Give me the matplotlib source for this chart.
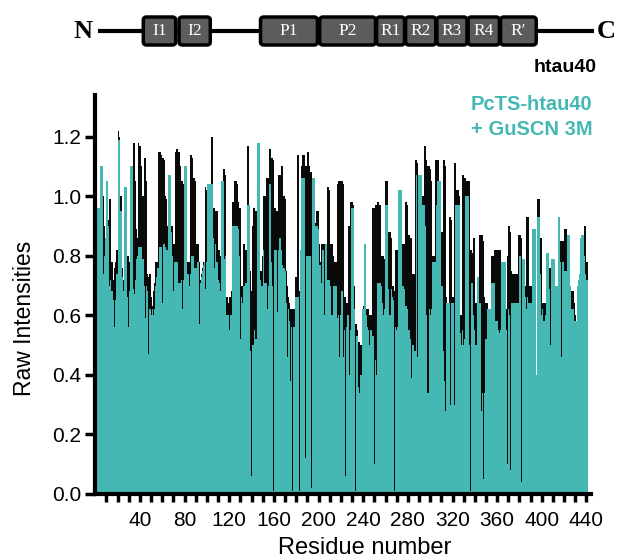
import numpy as np
import matplotlib
matplotlib.use("Agg")
import matplotlib.pyplot as plt
from matplotlib.patches import FancyBboxPatch

# Intensidades por residuo (1..441)
htau40 = [
    0.45, 0.96, 0.96, 0.96, 0.98, 1.00, 1.00, 0.90, 0.82, 0.95,
    0.95, 0.92, 0.99, 0.99, 0.78, 0.72, 0.76, 0.78, 0.82, 0.82,
    1.22, 1.20, 1.00, 0.76, 0.72, 0.90, 0.85, 0.80, 0.80, 0.80,
    0.78, 1.00, 1.00, 1.18, 1.18, 1.05, 0.89, 0.86, 1.18, 1.17,
    1.10, 1.00, 1.00, 1.13, 1.13, 1.05, 0.74, 0.73, 0.74, 0.66,
    0.63, 0.68, 0.71, 0.78, 0.78, 0.78, 1.15, 1.15, 1.14, 1.13,
    1.13, 1.12, 1.00, 0.99, 0.90, 0.95, 0.92, 0.90, 0.90, 0.84,
    0.84, 1.15, 1.16, 1.16, 1.15, 1.10, 1.05, 1.05, 1.04, 1.00,
    1.00, 1.00, 0.78, 0.78, 1.14, 1.14, 1.13, 1.06, 1.06, 1.05,
    0.84, 0.84, 0.78, 0.72, 0.74, 0.76, 0.78, 0.78, 1.03, 1.02,
    1.00, 1.02, 1.04, 1.20, 1.20, 0.96, 0.96, 0.95, 0.95, 0.82,
    0.82, 0.80, 1.00, 1.00, 1.09, 1.09, 1.07, 0.66, 0.64, 0.66,
    0.66, 0.68, 0.98, 0.98, 1.05, 1.05, 1.04, 0.98, 0.96, 0.96,
    0.70, 0.70, 0.84, 0.84, 0.82, 1.17, 1.17, 0.80, 0.75, 0.68,
    0.90, 0.96, 0.96, 0.95, 1.00, 1.10, 1.10, 0.75, 0.75, 0.80,
    1.00, 1.00, 1.06, 1.06, 1.06, 1.16, 1.16, 1.13, 1.13, 1.12,
    0.96, 0.95, 0.95, 1.07, 1.07, 1.07, 1.10, 1.10, 1.00, 0.99,
    0.75, 0.70, 0.66, 0.64, 0.62, 0.62, 0.62, 0.62, 0.73, 0.73,
    1.14, 1.14, 0.68, 0.68, 1.10, 1.14, 1.14, 1.10, 1.10, 1.15,
    1.15, 1.10, 1.08, 1.08, 0.91, 0.91, 0.91, 0.95, 0.95, 0.95,
    0.84, 0.78, 0.84, 0.84, 0.84, 0.82, 0.84, 1.03, 1.03, 1.02,
    0.84, 0.84, 0.80, 0.78, 0.78, 0.78, 1.04, 1.05, 1.05, 1.05,
    1.05, 1.04, 0.66, 0.66, 0.64, 0.64, 0.90, 0.90, 0.98, 0.98,
    0.97, 0.70, 0.57, 0.57, 0.55, 0.51, 0.51, 0.50, 0.62, 0.63,
    0.80, 0.78, 0.62, 0.62, 0.62, 0.60, 0.60, 0.96, 0.96, 0.96,
    0.97, 0.97, 0.98, 0.98, 0.97, 0.80, 0.80, 0.80, 0.79, 1.05,
    1.05, 1.05, 0.88, 0.88, 0.86, 0.70, 0.70, 0.68, 0.82, 0.82,
    0.82, 0.85, 0.85, 0.84, 0.84, 0.84, 0.84, 0.98, 0.98, 0.97,
    0.87, 0.86, 0.86, 0.74, 0.74, 0.74, 1.12, 1.12, 1.11, 1.05,
    1.04, 1.02, 1.00, 1.00, 1.17, 1.17, 1.12, 1.10, 1.10, 1.09,
    1.05, 0.80, 0.80, 0.80, 1.12, 1.12, 1.12, 1.00, 0.98, 0.88,
    0.88, 1.12, 1.12, 1.10, 0.66, 0.64, 0.93, 0.93, 0.92, 0.66,
    0.66, 1.11, 1.11, 1.02, 1.02, 1.00, 0.60, 0.60, 1.07, 1.07,
    1.06, 1.06, 1.05, 1.05, 1.05, 0.82, 0.82, 0.81, 0.86, 0.86,
    0.64, 0.64, 0.64, 0.87, 0.87, 0.87, 0.87, 0.85, 0.66, 0.64,
    0.64, 0.62, 0.62, 0.62, 0.80, 0.80, 0.80, 0.82, 0.82, 0.82,
    0.82, 0.82, 0.82, 0.60, 0.58, 0.58, 0.60, 0.62, 0.80, 0.90,
    0.90, 0.88, 0.75, 0.74, 0.74, 0.74, 0.74, 0.74, 0.87, 0.87,
    0.87, 0.86, 0.70, 0.70, 0.70, 0.93, 0.93, 0.93, 0.70, 0.70,
    0.70, 0.80, 0.80, 0.80, 0.40, 0.99, 0.99, 0.99, 0.86, 0.86,
    0.64, 0.64, 0.64, 0.78, 0.78, 0.78, 0.76, 0.76, 0.76, 0.78,
    0.78, 0.70, 0.70, 0.70, 0.85, 0.85, 0.85, 0.85, 0.85, 0.89,
    0.89, 0.89, 0.80, 0.80, 0.80, 0.68, 0.68, 0.68, 0.64, 0.60,
    0.58, 0.60, 0.60, 0.60, 0.70, 0.80, 0.80, 0.90, 0.90, 0.78, 0.78,
]

pcts_guscn = [
    0.45, 0.96, 0.96, 0.96, 1.10, 1.10, 0.74, 0.80, 0.86, 1.05,
    1.05, 0.90, 0.70, 0.72, 0.68, 0.65, 0.56, 0.65, 0.74, 0.74,
    1.19, 1.19, 0.95, 0.73, 0.68, 1.03, 1.03, 1.03, 0.66, 0.56,
    0.68, 1.10, 1.10, 0.69, 0.67, 0.72, 0.79, 0.80, 0.83, 0.83,
    0.83, 0.79, 0.79, 0.70, 0.59, 0.70, 0.68, 0.47, 0.62, 0.60,
    0.62, 0.60, 0.62, 0.70, 0.73, 0.76, 0.76, 0.83, 0.83, 0.64,
    0.84, 0.84, 0.83, 0.82, 0.82, 1.07, 1.07, 0.88, 0.80, 0.68,
    0.78, 0.78, 0.78, 0.78, 0.71, 0.71, 0.72, 0.62, 0.72, 1.10,
    1.10, 1.10, 0.74, 0.70, 0.74, 0.80, 0.80, 0.80, 0.76, 0.76,
    0.76, 0.78, 0.57, 0.71, 0.73, 0.75, 0.77, 0.78, 0.69, 0.78,
    1.04, 1.04, 1.04, 1.04, 1.04, 0.86, 0.76, 0.84, 0.78, 0.72,
    0.71, 0.68, 1.05, 1.05, 1.05, 0.79, 0.80, 0.60, 0.60, 0.55,
    0.60, 0.60, 0.90, 0.90, 0.90, 0.90, 0.90, 0.89, 0.80, 0.52,
    0.66, 0.64, 0.70, 0.70, 0.71, 0.97, 0.97, 0.97, 0.48, 0.06,
    0.50, 0.50, 0.55, 0.52, 1.18, 1.18, 1.18, 0.72, 0.70, 0.70,
    0.82, 0.71, 0.71, 0.62, 0.70, 1.04, 1.04, 0.78, 0.70, 0.01,
    0.82, 0.82, 0.61, 0.82, 0.86, 0.86, 0.82, 0.77, 0.76, 0.75,
    0.64, 0.46, 0.62, 0.58, 0.38, 0.56, 0.01, 0.56, 0.66, 0.66,
    0.66, 0.66, 0.01, 0.82, 1.06, 1.06, 1.06, 0.12, 0.80, 0.80,
    0.80, 0.80, 0.80, 0.02, 1.06, 1.06, 0.90, 0.90, 0.90, 0.89,
    0.77, 0.77, 0.71, 0.82, 0.60, 0.84, 0.84, 0.72, 0.72, 0.72,
    0.70, 0.60, 0.70, 0.70, 0.70, 0.70, 0.59, 0.60, 0.46, 0.60,
    0.68, 0.46, 0.55, 0.06, 0.56, 0.60, 0.60, 0.40, 0.55, 0.96,
    0.96, 0.62, 0.01, 0.53, 0.53, 0.36, 0.34, 0.40, 0.62, 0.62,
    0.84, 0.84, 0.60, 0.56, 0.55, 0.50, 0.55, 0.53, 0.53, 0.10,
    0.45, 0.40, 0.71, 0.71, 0.71, 0.70, 0.64, 0.60, 0.62, 0.97,
    0.97, 0.97, 0.69, 0.60, 0.69, 0.66, 0.65, 0.01, 0.56, 0.55,
    0.56, 1.02, 1.02, 1.02, 0.70, 0.70, 0.69, 0.63, 0.63, 0.62,
    0.55, 0.52, 0.39, 0.50, 0.50, 0.48, 0.48, 1.07, 0.46, 1.07,
    1.07, 1.07, 0.97, 0.97, 0.97, 0.90, 0.60, 0.34, 0.62, 0.60,
    0.62, 0.78, 0.78, 0.78, 0.78, 0.97, 1.05, 1.05, 1.05, 0.70,
    0.70, 0.48, 0.38, 0.28, 0.64, 0.64, 0.64, 0.30, 0.64, 0.64,
    0.64, 0.30, 0.97, 0.97, 0.97, 0.97, 0.54, 0.50, 0.55, 0.50,
    0.52, 1.00, 1.00, 1.00, 0.50, 0.01, 0.71, 0.71, 0.60, 0.55,
    0.50, 0.73, 0.73, 0.64, 0.64, 0.28, 0.34, 0.05, 0.34, 0.52,
    0.62, 0.62, 0.62, 0.62, 0.71, 0.71, 0.71, 0.71, 0.58, 0.58,
    0.55, 0.54, 0.55, 0.78, 0.78, 0.78, 0.78, 0.55, 0.10, 0.62,
    0.60, 0.08, 0.64, 0.64, 0.64, 0.64, 0.64, 0.64, 0.64, 0.80,
    0.80, 0.04, 0.79, 0.79, 0.66, 0.62, 0.66, 0.64, 0.64, 0.64,
    0.64, 0.89, 0.89, 0.89, 0.40, 0.93, 0.93, 0.93, 0.74, 0.60,
    0.62, 0.58, 0.60, 0.81, 0.81, 0.81, 0.69, 0.50, 0.79, 0.79,
    0.79, 0.70, 0.70, 0.70, 0.93, 0.93, 0.78, 0.46, 0.78, 0.75,
    0.75, 0.75, 0.87, 0.87, 0.87, 0.70, 0.62, 0.62, 0.58, 0.58,
    0.58, 0.70, 0.72, 0.74, 0.86, 0.87, 0.87, 0.80, 0.74, 0.72, 0.72,
]

residuos = np.arange(1, len(htau40) + 1)

# Dominios do esquema no topo (em numero de residuo)
dominios = ["I1", "I2", "P1", "P2", "R1", "R2", "R3", "R4", "R\u2032"]
dom_inicio = [43, 75, 148, 201, 252, 278, 306, 334, 363]
dom_fim = [72, 103, 199, 251, 277, 305, 333, 362, 395]

xticks_maiores = list(range(40, 441, 40))
xticks_menores = list(range(10, 441, 10))
yticks = [0.0, 0.2, 0.4, 0.6, 0.8, 1.0, 1.2]

teal = "#45B8B3"
preto = "#0a0a0a"

plt.rcParams["font.family"] = ["Liberation Sans", "DejaVu Sans"]

fig = plt.figure(figsize=(6.18, 5.60), dpi=100)
ax = fig.add_axes([0.1542, 0.1179, 0.802, 0.7125])

# Barras: htau40 atras, PcTS-htau40 + GuSCN na frente
ax.bar(residuos, htau40, width=1.0, color=preto, linewidth=0)
ax.bar(residuos, pcts_guscn, width=1.0, color=teal, linewidth=0)

ax.set_xlim(0, 444)
ax.set_ylim(0, 1.34)
ax.set_xticks(xticks_maiores)
ax.set_xticks(xticks_menores, minor=True)
ax.set_yticks(yticks)
ax.set_yticklabels([f"{v:.1f}" for v in yticks])

for lado in ["top", "right"]:
    ax.spines[lado].set_visible(False)
ax.spines["left"].set_linewidth(3)
ax.spines["bottom"].set_linewidth(3)

ax.tick_params(axis="x", which="both", direction="out", length=6, width=2.5,
               labelsize=15, pad=6)
ax.tick_params(axis="y", which="major", direction="out", length=7, width=2.5,
               labelsize=15, pad=3)

# Rotulos dos eixos (posicao ajustada a mao)
ax.set_xlabel("Residue number", fontsize=17, va="baseline")
ax.set_ylabel("Raw Intensities", fontsize=16.5)
ax.xaxis.set_label_coords(0.544, -0.150)
ax.yaxis.set_label_coords(-0.12, 0.44)

# Legendas em texto
fig.text(597 / 618, 1 - 67 / 560, "htau40", ha="right", va="center",
         fontsize=14, fontweight="bold", color="black")
fig.text(471 / 618, 1 - 117 / 560, "PcTS-htau40\n+ GuSCN 3M", ha="left",
         va="center", fontsize=14.5, fontweight="bold", color=teal,
         linespacing=1.35)

# Esquema dos dominios
axd = fig.add_axes([0.1542, 1 - 52 / 560, 0.802, 42 / 560])
axd.set_xlim(0, 444)
axd.set_ylim(0, 42)
axd.axis("off")
axd.plot([2, 447], [21, 21], color="black", lw=3, clip_on=False,
         solid_capstyle="butt", zorder=1)
for nome, ini, fim in zip(dominios, dom_inicio, dom_fim):
    caixa = FancyBboxPatch((ini, 7), fim - ini, 28,
                           boxstyle="round,pad=0,rounding_size=3",
                           facecolor="#5c5c5c", edgecolor="black",
                           linewidth=2.5, clip_on=False, zorder=2)
    axd.add_patch(caixa)
    axd.text((ini + fim) / 2, 21, nome, ha="center", va="center",
             color="white", fontsize=12.5,
             family=["Liberation Serif", "DejaVu Serif"], zorder=3)
axd.text(-11, 20, "N", ha="center", va="center", fontsize=19,
         fontweight="bold", family=["Liberation Serif", "DejaVu Serif"],
         clip_on=False)
axd.text(458, 20, "C", ha="center", va="center", fontsize=19,
         fontweight="bold", family=["Liberation Serif", "DejaVu Serif"],
         clip_on=False)

fig.savefig("out.png", dpi=100)
